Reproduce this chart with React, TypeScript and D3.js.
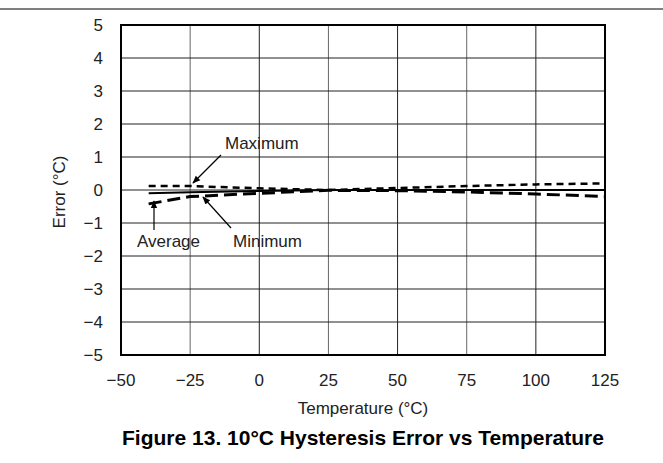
import React from "react";
import * as d3 from "d3";

const temps = [-40, -25, 0, 25, 50, 75, 100, 125];
const maxErr = [0.12, 0.12, 0.05, 0.0, 0.06, 0.12, 0.17, 0.2];
const avgErr = [-0.1, -0.07, -0.03, 0.0, 0.0, 0.0, 0.0, 0.0];
const minErr = [-0.42, -0.2, -0.1, -0.01, -0.02, -0.06, -0.12, -0.2];
const xTicks = [-50, -25, 0, 25, 50, 75, 100, 125];
const yTicks = [-5, -4, -3, -2, -1, 0, 1, 2, 3, 4, 5];

const W = 663, H = 463;
const L = 121, R = 605, T = 25, B = 355;

export default function App() {
  const x = d3.scaleLinear().domain([-50, 125]).range([L, R]);
  const y = d3.scaleLinear().domain([-5, 5]).range([B, T]);
  const line = d3.line<number>().x((_, i) => x(temps[i])).y((d) => y(d));
  const fmt = (v: number) => (v < 0 ? "\u2212" + Math.abs(v) : String(v));
  const font = "'Liberation Sans', Arial, sans-serif";
  return (
    <svg width={W} height={H} style={{ position: "absolute", left: 0, top: 0 }} fontFamily={font}>
      <defs>
        <marker id="ah" viewBox="0 0 10 10" refX="9" refY="5" markerWidth="8" markerHeight="8" orient="auto-start-reverse" markerUnits="userSpaceOnUse">
          <path d="M0,1 L10,5 L0,9 Z" fill="#000" />
        </marker>
      </defs>
      <rect x={0} y={0} width={W} height={H} fill="#fff" />
      <line x1={0} x2={W} y1={9} y2={9} stroke="#000" strokeWidth={1} />
      {xTicks.slice(1, -1).map((t) => (
        <line key={"vx" + t} x1={x(t)} x2={x(t)} y1={T} y2={B} stroke={t % 50 === 0 ? "#222" : "#666"} strokeWidth={1} />
      ))}
      {yTicks.slice(1, -1).map((t) => (
        <line key={"hy" + t} x1={L} x2={R} y1={y(t)} y2={y(t)} stroke="#222" strokeWidth={1} />
      ))}
      <rect x={L} y={T} width={R - L} height={B - T} fill="none" stroke="#000" strokeWidth={2} />
      {xTicks.map((t) => (
        <text key={"xl" + t} x={x(t)} y={386} fontSize={17} textAnchor="middle" fill="#222">{fmt(t)}</text>
      ))}
      {yTicks.map((t) => (
        <text key={"yl" + t} x={103} y={y(t) + 6} fontSize={17} textAnchor="end" fill="#222">{fmt(t)}</text>
      ))}
      <text x={363} y={414} fontSize={17} textAnchor="middle" fill="#222">Temperature (°C)</text>
      <text transform={`translate(65,192) rotate(-90)`} fontSize={17} textAnchor="middle" fill="#222">Error (°C)</text>
      <text x={363} y={445} fontSize={21} fontWeight="bold" textAnchor="middle" fill="#000">Figure 13. 10°C Hysteresis Error vs Temperature</text>

      <path d={line(maxErr) || ""} fill="none" stroke="#000" strokeWidth={2.5} strokeDasharray="7,5" />
      <path d={line(avgErr) || ""} fill="none" stroke="#000" strokeWidth={2} />
      <path d={line(minErr) || ""} fill="none" stroke="#000" strokeWidth={3} strokeDasharray="13,6" />

      <line x1={221} y1={155} x2={193} y2={183} stroke="#000" strokeWidth={1.2} markerEnd="url(#ah)" />
      <line x1={154} y1={230} x2={154} y2={201} stroke="#000" strokeWidth={1.2} markerEnd="url(#ah)" />
      <line x1={231} y1={228} x2={203} y2={197} stroke="#000" strokeWidth={1.2} markerEnd="url(#ah)" />
      <text x={225} y={149} fontSize={17} fill="#222">Maximum</text>
      <text x={137} y={247} fontSize={17} fill="#222">Average</text>
      <text x={233} y={247} fontSize={17} fill="#222">Minimum</text>
    </svg>
  );
}
